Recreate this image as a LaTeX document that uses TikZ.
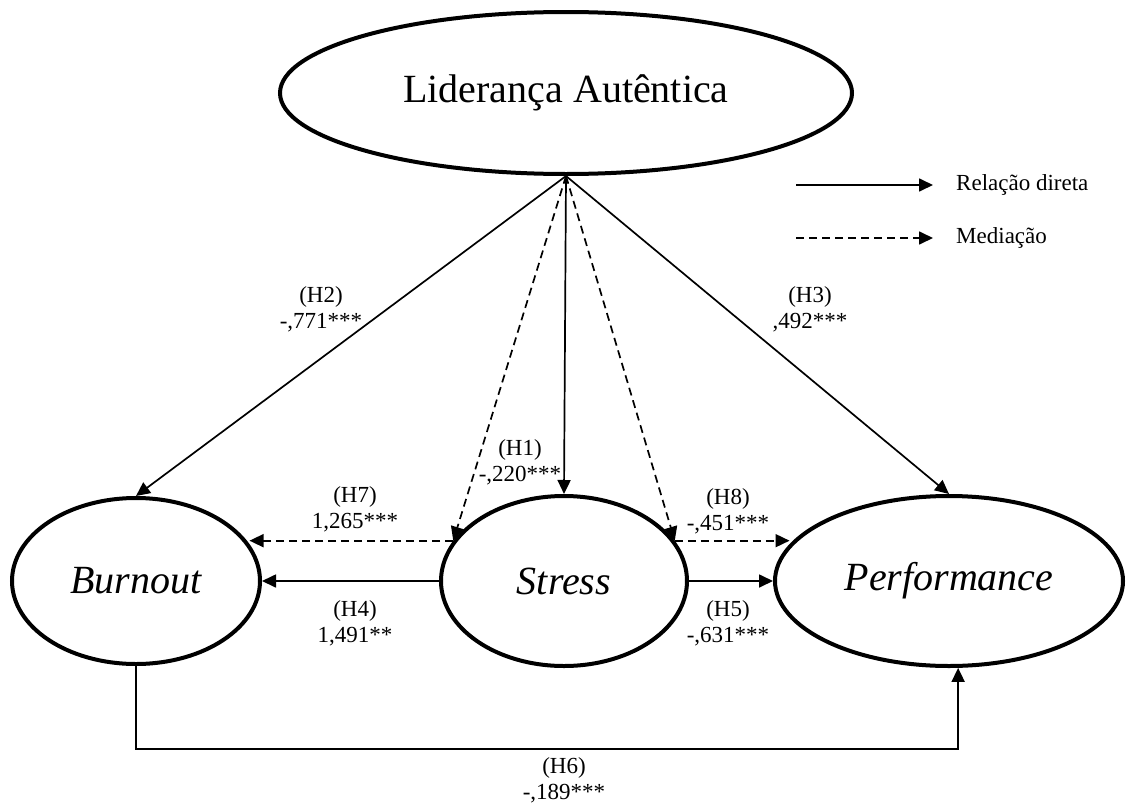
\documentclass[tikz,border=0pt]{standalone}
\usepackage{fontspec}
\setmainfont{Liberation Serif}
\usetikzlibrary{arrows.meta,shapes.geometric}
\begin{document}
\begin{tikzpicture}[x=1pt,y=-1pt,
  latent/.style={ellipse,draw,line width=4pt,inner sep=0pt,font=\fontsize{40}{44}\selectfont\itshape},
  conn/.style={line width=1.7pt,-{Triangle[length=14pt,width=13pt]}},
  med/.style={conn,dash pattern=on 8pt off 5pt},
  lbl/.style={align=center,inner sep=0pt,font=\fontsize{23}{26}\selectfont}]
\useasboundingbox (0,0) rectangle (1127,803);
% latent variables
\node[latent,font=\fontsize{40}{44}\selectfont,minimum width=572pt,minimum height=162pt] (LA) at (566,93) {Liderança Autêntica};
\node[latent,minimum width=248pt,minimum height=166pt] (B) at (136,581) {Burnout};
\node[latent,minimum width=246pt,minimum height=170pt] (S) at (564,581) {Stress};
\node[latent,minimum width=348pt,minimum height=170pt] (P) at (949,581) {Performance};
% direct relations
\draw[conn] (LA.south) -- (B.north);
\draw[conn] (LA.south) -- (S.north);
\draw[conn] (LA.south) -- (P.north);
\draw[conn] (S.west) -- (B.east);
\draw[conn] (S.east) -- (P.west);
\coordinate (h6) at (500,749);
\draw[conn] (B.south) -- (B.south |- h6) -| (P.-84);
% mediation
\draw[med] (LA.south) -- (S.160);
\draw[med] (LA.south) -- (S.20);
\draw[med] (S.160) -- (B.18 |- S.160);
\draw[med] (S.20) -- (P.167 |- S.20);
% labels
\node[lbl] (lH2) at (321,309) {(H2)\\-,771***};
\node[lbl] (lH3) at (810,309) {(H3)\\,492***};
\node[lbl] (lH1) at (520,462) {(H1)\\-,220***};
\node[lbl] (lH7) at (355,509) {(H7)\\1,265***};
\node[lbl] (lH4) at (355,623) {(H4)\\1,491**};
\node[lbl] (lH8) at (728,511) {(H8)\\-,451***};
\node[lbl] (lH5) at (728,623) {(H5)\\-,631***};
\node[lbl] (lH6) at (564,780) {(H6)\\-,189***};
% legend
\coordinate (l1a) at (796,185);
\coordinate (l1b) at (933,185);
\coordinate (l2a) at (796,238);
\coordinate (l2b) at (933,238);
\draw[conn] (l1a) -- (l1b);
\draw[med] (l2a) -- (l2b);
\node[lbl,anchor=west] (t1) at (956,185) {Relação direta};
\node[lbl,anchor=west] (t2) at (956,238) {Mediação};
\end{tikzpicture}
\end{document}
